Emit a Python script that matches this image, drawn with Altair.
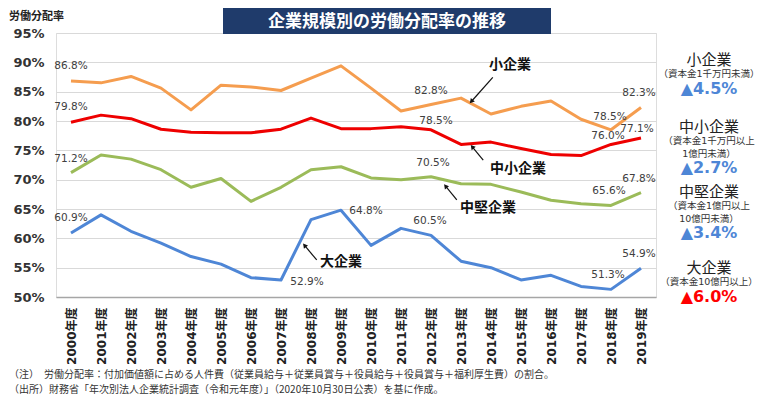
import math
import altair as alt
import pandas as pd

years = list(range(2000, 2020))
series_names = ["小企業", "中小企業", "中堅企業", "大企業"]
small = [86.8, 86.5, 87.6, 85.6, 81.9, 86.1, 85.8, 85.2, 87.3, 89.4,
         85.6, 81.7, 82.8, 83.9, 81.2, 82.5, 83.4, 80.3, 78.5, 82.3]
sme = [79.8, 81.0, 80.4, 78.6, 78.1, 78.0, 78.0, 78.6, 80.5, 78.7,
       78.7, 79.0, 78.5, 76.0, 76.4, 75.3, 74.3, 74.1, 76.0, 77.1]
mid = [71.2, 74.2, 73.5, 71.7, 68.7, 70.2, 66.3, 68.7, 71.7, 72.2,
       70.3, 70.0, 70.5, 69.3, 69.2, 67.9, 66.5, 65.9, 65.6, 67.8]
large = [60.9, 64.0, 61.2, 59.2, 56.9, 55.6, 53.3, 52.9, 63.2, 64.8,
         58.8, 61.7, 60.5, 56.1, 55.0, 52.9, 53.7, 51.8, 51.3, 54.9]
colors = ["#F59D4F", "#EE0000", "#9BBB59", "#4E86D6"]

# labelled points: (series index, year, dx, dy)
label_pts = [
    (0, 2000, 0, -15), (0, 2012, 0, -14), (0, 2018, -1, -13), (0, 2019, -2, -15),
    (1, 2000, 0, -15), (1, 2012, 5, -9), (1, 2018, -3, -8), (1, 2019, -4, -9),
    (2, 2000, 0, -14), (2, 2012, 2, -14), (2, 2018, -2, -14), (2, 2019, -2, -14),
    (3, 2000, 0, -15), (3, 2007, 26, 2), (3, 2009, 25, 1), (3, 2012, -1, -14),
    (3, 2018, -3, -14), (3, 2019, -2, -14),
]

# series name annotations: text position and arrow tail/head (year, value)
name_pos = [(2014.63, 89.55), (2014.9, 71.8), (2013.9, 65.2), (2009.0, 56.0)]
arrow_tail = [(2014.06, 87.45), (2013.74, 73.35), (2012.86, 66.54), (2008.19, 56.31)]
arrow_head = [(2013.36, 83.41), (2013.39, 75.52), (2012.5, 68.8), (2007.8, 58.7)]

legend_names = ["小企業", "中小企業", "中堅企業", "大企業"]
legend_sub = [["（資本金1千万円未満）"], ["（資本金1千万円以上", "1億円未満）"],
              ["（資本金1億円以上", "10億円未満）"], ["（資本金10億円以上）"]]
legend_change = ["▲4.5%", "▲2.7%", "▲3.4%", "▲6.0%"]
legend_change_colors = ["#4E86D6", "#4E86D6", "#4E86D6", "#FF0000"]

title_text = "企業規模別の労働分配率の推移"
y_title = "労働分配率"
notes = [
    "（注）　労働分配率：付加価値額に占める人件費（従業員給与＋従業員賞与＋役員給与＋役員賞与＋福利厚生費）の割合。",
    "（出所）財務省「年次別法人企業統計調査（令和元年度）」（2020年10月30日公表）を基に作成。",
]

W, H = 600, 264
Y0, Y1 = 50, 95
X0, X1 = 1999.5, 2019.5
JP = "Noto Sans CJK JP"
NUM = "DejaVu Sans, Noto Sans CJK JP"

all_vals = [small, sme, mid, large]
rows = []
for name, vals in zip(series_names, all_vals):
    for yr, v in zip(years, vals):
        rows.append({"series": name, "year": yr, "value": v})
df = pd.DataFrame(rows)

xs = alt.Scale(domain=[X0, X1], nice=False, zero=False)
ys = alt.Scale(domain=[Y0, Y1], nice=False, zero=False)

x_axis = alt.Axis(
    values=years, labelExpr="datum.value + '年度'", labelAngle=270,
    labelFont=NUM, labelFontWeight="bold", labelFontSize=12, labelColor="#222",
    ticks=False, grid=False, domainColor="#A6A6A6", domainWidth=1.5,
    labelPadding=10, title=None, labelOverlap=False, labelBound=False, labelFlush=False)
y_axis = alt.Axis(
    values=list(range(50, 100, 5)), labelExpr="datum.value + '%'",
    labelFont=NUM, labelFontWeight="bold", labelFontSize=13, labelColor="#333",
    ticks=False, domain=False, gridColor="#D9D9D9", gridWidth=1,
    labelPadding=12, title=None, labelOverlap=False, labelBound=False, labelFlush=False)

X_ = lambda f: alt.X(f, scale=xs, axis=x_axis)
Y_ = lambda f: alt.Y(f, scale=ys, axis=y_axis)

lines = alt.Chart(df).mark_line(strokeWidth=3, strokeJoin="round").encode(
    x=X_("year:Q"), y=Y_("value:Q"),
    color=alt.Color("series:N", scale=alt.Scale(domain=series_names, range=colors), legend=None),
)

lab_rows = []
for si, yr, dx, dy in label_pts:
    v = all_vals[si][years.index(yr)]
    lab_rows.append({"year": yr, "value": v, "text": f"{v:.1f}%", "dx": dx, "dy": dy})
labels = alt.layer(*[
    alt.Chart(pd.DataFrame([r])).mark_text(
        font=NUM, fontSize=10.5, color="#404040", dx=r["dx"], dy=r["dy"], baseline="middle"
    ).encode(x=X_("year:Q"), y=Y_("value:Q"), text="text:N")
    for r in lab_rows
])

name_df = pd.DataFrame({"year": [p[0] for p in name_pos], "value": [p[1] for p in name_pos],
                        "text": series_names})
names = alt.Chart(name_df).mark_text(font=JP, fontSize=14, fontWeight="bold", color="#111",
                                     baseline="middle").encode(
    x=X_("year:Q"), y=Y_("value:Q"), text="text:N")

px_per_year = W / (X1 - X0)
px_per_pct = H / (Y1 - Y0)
arr_rows = []
for t, h in zip(arrow_tail, arrow_head):
    dxp = (h[0] - t[0]) * px_per_year
    dyp = -(h[1] - t[1]) * px_per_pct
    ang = math.degrees(math.atan2(dxp, -dyp)) % 360
    arr_rows.append({"x": t[0], "y": t[1], "x2": h[0], "y2": h[1], "angle": ang})
arr_df = pd.DataFrame(arr_rows)
arrow_lines = alt.Chart(arr_df).mark_rule(color="#111", strokeWidth=1.2).encode(
    x=X_("x:Q"), y=Y_("y:Q"), x2="x2:Q", y2="y2:Q")
arrow_heads = alt.Chart(arr_df).mark_point(shape="triangle", filled=True, color="#111",
                                           size=28, opacity=1).encode(
    x=X_("x2:Q"), y=Y_("y2:Q"),
    angle=alt.Angle("angle:Q", scale=None))

# title box
title_box = alt.Chart(pd.DataFrame({"t": [title_text]})).mark_rect(color="#1F3B6B").encode(
    x=alt.value(167), x2=alt.value(495), y=alt.value(-25), y2=alt.value(1))
title = alt.Chart(pd.DataFrame({"t": [title_text]})).mark_text(
    font=JP, fontSize=17, fontWeight="bold", color="white", baseline="middle", align="center"
).encode(x=alt.value(331), y=alt.value(-11), text="t:N")
ylab = alt.Chart(pd.DataFrame({"t": [y_title]})).mark_text(
    font=JP, fontSize=11, fontWeight="bold", color="#222", baseline="middle", align="left"
).encode(x=alt.value(-47), y=alt.value(-16), text="t:N")

# right-side legend
leg_rows = []
name_y = [60, 127, 192, 268]
for i in range(4):
    y = name_y[i] - 33
    leg_rows.append({"t": legend_names[i], "y": y, "size": 15, "w": "normal", "c": "#222"})
    yy = y + 14
    for s in legend_sub[i]:
        leg_rows.append({"t": s, "y": yy, "size": 9.5, "w": "normal", "c": "#333"})
        yy += 12.5
    leg_rows.append({"t": legend_change[i], "y": yy + 2, "size": 16, "w": "bold",
                     "c": legend_change_colors[i]})
legend_layers = [
    alt.Chart(pd.DataFrame([r])).mark_text(
        font=NUM, fontSize=r["size"], fontWeight=r["w"], color=r["c"],
        baseline="middle", align="center").encode(x=alt.value(653), y=alt.value(r["y"]), text="t:N")
    for r in leg_rows
]

note_layers = [
    alt.Chart(pd.DataFrame({"t": [n]})).mark_text(
        font=JP, fontSize=10, color="#333", baseline="middle", align="left"
    ).encode(x=alt.value(-47), y=alt.value(342 + 15 * i), text="t:N")
    for i, n in enumerate(notes)
]

chart = alt.layer(
    lines, labels, names, arrow_lines, arrow_heads, title_box, title, ylab,
    *legend_layers, *note_layers
).properties(
    width=W, height=H,
    padding={"left": 48, "top": 25, "right": 104, "bottom": 100},
    autosize=alt.AutoSizeParams(type="none"),
).configure_view(stroke=None).configure(background="white")

chart.save("out.html", embed_options={"renderer": "svg", "actions": False})
